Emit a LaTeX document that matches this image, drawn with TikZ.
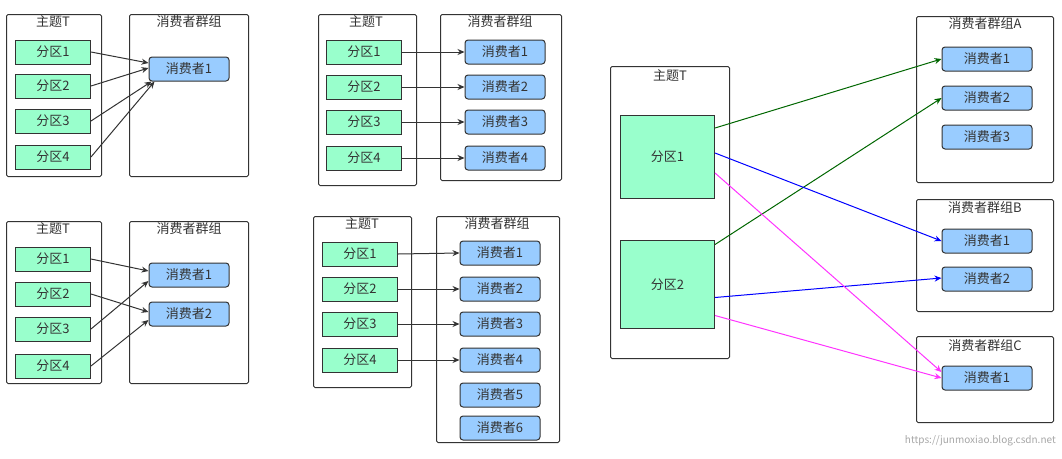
\documentclass[tikz,border=0pt]{standalone}
\usepackage{fontspec}
\setmainfont{Noto Sans CJK SC}
\usetikzlibrary{arrows.meta}
\definecolor{pg}{HTML}{99FFCC}
\definecolor{cb}{HTML}{99CCFF}
\definecolor{ln}{HTML}{333333}
\begin{document}
\begin{tikzpicture}[x=1pt,y=-1pt,
  every node/.style={text=ln},
  box/.style={draw=ln,line width=1pt,rounded corners=1.5pt},
  part/.style={draw=ln,fill=pg,line width=1pt,minimum width=75pt,minimum height=24pt,inner sep=0pt,font=\fontsize{13}{15}\selectfont},
  cons/.style={draw=ln,fill=cb,line width=1pt,rounded corners=3pt,minimum width=80pt,minimum height=24pt,inner sep=0pt,font=\fontsize{13}{15}\selectfont},
  ttl/.style={font=\fontsize{13}{15}\selectfont,inner sep=0pt},
  arr/.style={-{Stealth[length=7pt,width=6pt]},draw=ln,line width=1pt}]
\useasboundingbox (0,0) rectangle (1062,458);
% Panel 1
\node[box,minimum width=95pt,minimum height=162pt,anchor=north west] (t1) at (6,14) {};
\node[ttl] (t1l) at (53,22) {主题T};
\node[box,minimum width=119pt,minimum height=162pt,anchor=north west] (g1) at (129,14) {};
\node[ttl] (g1l) at (189,22) {消费者群组};
\node[part] (a1) at (53,52) {分区1};
\node[part] (a2) at (53,86) {分区2};
\node[part] (a3) at (53,121) {分区3};
\node[part] (a4) at (53,157) {分区4};
\node[cons] (ac1) at (189,69) {消费者1};
\draw[arr] (a1.east) -- ([yshift=6pt]ac1.west);
\draw[arr] (a2.east) -- ([yshift=1pt]ac1.west);
\draw[arr] (a3.east) -- ([xshift=3pt]ac1.south west);
\draw[arr] (a4.east) -- ([xshift=6pt]ac1.south west);
% Panel 2
\node[box,minimum width=95pt,minimum height=162pt,anchor=north west] (t2) at (6,221) {};
\node[ttl] (t2l) at (53,229) {主题T};
\node[box,minimum width=119pt,minimum height=162pt,anchor=north west] (g2) at (129,221) {};
\node[ttl] (g2l) at (189,229) {消费者群组};
\node[part] (b1) at (53,259) {分区1};
\node[part] (b2) at (53,294) {分区2};
\node[part] (b3) at (53,329) {分区3};
\node[part] (b4) at (53,366) {分区4};
\node[cons] (bc1) at (189,275) {消费者1};
\node[cons] (bc2) at (189,314) {消费者2};
\draw[arr] (b1.east) -- ([yshift=4pt]bc1.west);
\draw[arr] (b3.east) -- ([yshift=-6pt]bc1.west);
\draw[arr] (b2.east) -- ([yshift=2pt]bc2.west);
\draw[arr] (b4.east) -- ([yshift=-6pt]bc2.west);
% Panel 3
\node[box,minimum width=98pt,minimum height=171pt,anchor=north west] (t3) at (318,14) {};
\node[ttl] (t3l) at (366,22) {主题T};
\node[box,minimum width=121pt,minimum height=166pt,anchor=north west] (g3) at (440,14) {};
\node[ttl] (g3l) at (500,22) {消费者群组};
\foreach \i/\y in {1/52,2/87,3/122,4/158}{
  \node[part] (c\i) at (364,\y) {分区\i};
  \node[cons] (cc\i) at (505,\y) {消费者\i};
  \draw[arr] (c\i.east) -- (cc\i.west);
}
% Panel 4
\node[box,minimum width=98pt,minimum height=171pt,anchor=north west] (t4) at (313,216) {};
\node[ttl] (t4l) at (362,224) {主题T};
\node[box,minimum width=123pt,minimum height=226pt,anchor=north west] (g4) at (436,216) {};
\node[ttl] (g4l) at (497,224) {消费者群组};
\foreach \i/\y in {1/254,2/289,3/324,4/360}{
  \node[part] (d\i) at (360,\y) {分区\i};
}
\foreach \i/\y in {1/253,2/289,3/324,4/360,5/395,6/428}{
  \node[cons] (dc\i) at (500,\y) {消费者\i};
}
\foreach \i in {1,2,3,4}{\draw[arr] (d\i.east) -- (dc\i.west);}
% Panel 5
\node[box,minimum width=119pt,minimum height=292pt,anchor=north west] (t5) at (610,66) {};
\node[ttl] (t5l) at (670,76) {主题T};
\node[part,minimum width=94pt,minimum height=83pt,anchor=north west] (e1) at (620,115) {分区1};
\node[part,minimum width=94pt,minimum height=88pt,anchor=north west] (e2) at (620,240) {分区2};
\node[box,minimum width=137pt,minimum height=166pt,anchor=north west] (gA) at (916,16) {};
\node[ttl] (gAl) at (985,24) {消费者群组A};
\node[cons,minimum width=90pt] (A1) at (987,59) {消费者1};
\node[cons,minimum width=90pt] (A2) at (987,98) {消费者2};
\node[cons,minimum width=90pt] (A3) at (987,137) {消费者3};
\node[box,minimum width=137pt,minimum height=112pt,anchor=north west] (gB) at (916,199) {};
\node[ttl] (gBl) at (985,208) {消费者群组B};
\node[cons,minimum width=90pt] (B1) at (987,241) {消费者1};
\node[cons,minimum width=90pt] (B2) at (987,279) {消费者2};
\node[box,minimum width=137pt,minimum height=86pt,anchor=north west] (gC) at (916,336) {};
\node[ttl] (gCl) at (985,346) {消费者群组C};
\node[cons,minimum width=90pt] (C1) at (987,378) {消费者1};
\draw[arr,draw={rgb,255:red,0;green,102;blue,0}] ([yshift=29pt]e1.east) -- (A1.west);
\draw[arr,draw={rgb,255:red,0;green,102;blue,0}] ([yshift=40pt]e2.east) -- (A2.west);
\draw[arr,draw=blue] ([yshift=4pt]e1.east) -- (B1.west);
\draw[arr,draw=blue] ([yshift=-13pt]e2.east) -- ([yshift=1pt]B2.west);
\draw[arr,draw={rgb,255:red,255;green,51;blue,255}] ([yshift=-16pt]e1.east) -- ([yshift=6pt]C1.west);
\draw[arr,draw={rgb,255:red,255;green,51;blue,255}] ([yshift=-31pt]e2.east) -- (C1.west);
\node[font=\fontsize{10}{12}\selectfont,text=gray!70,anchor=east,inner sep=0pt] (wm) at (1056,441) {https://junmoxiao.blog.csdn.net};
\end{tikzpicture}
\end{document}
